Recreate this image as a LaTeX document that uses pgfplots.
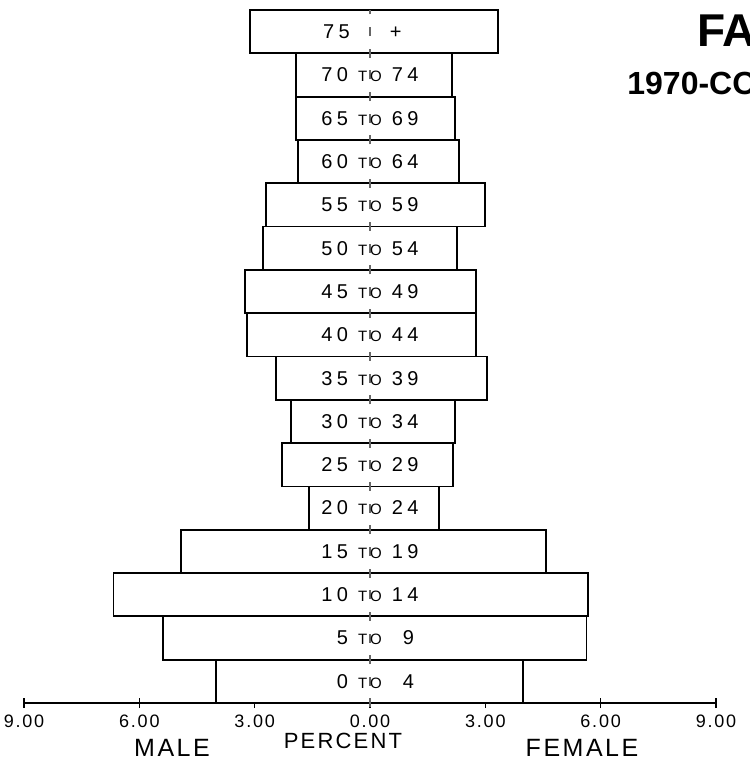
\documentclass[border=0pt]{standalone}
\usepackage{fontspec}
\setmainfont{Liberation Sans}
\newfontfamily\plotfont[LetterSpace=10]{Liberation Sans}
\newfontfamily\lblfont[LetterSpace=22]{Liberation Sans}
\usepackage{pgfplots}
\pgfplotsset{compat=1.18}
\usepackage{pgfplotstable}

\pgfplotstableread{
row  male female
0.5  4.01 3.98
1.5  5.39 5.63
2.5  6.67 5.68
3.5  4.92 4.58
4.5  1.59 1.80
5.5  2.29 2.16
6.5  2.06 2.21
7.5  2.45 3.05
8.5  3.20 2.76
9.5  3.26 2.76
10.5 2.79 2.27
11.5 2.71 2.99
12.5 1.88 2.32
13.5 1.93 2.21
14.5 1.93 2.13
15.5 3.12 3.33
}\pyr

\newcommand\TO{{\fontsize{7.5}{7.5}\selectfont TO}}
\tikzset{lbl/.style={font=\lblfont\fontsize{10}{10}\selectfont}}

\begin{document}
\begin{tikzpicture}
\path[use as bounding box] (0,0) rectangle (375pt,383.5pt);
\clip (0,0) rectangle (375pt,383.5pt);
\begin{axis}[
  at={(12pt,32pt)}, anchor=south west,
  scale only axis, width=346pt, height=346.5pt,
  xmin=-9, xmax=9, ymin=0, ymax=16,
  axis x line=bottom, axis y line=none,
  x axis line style={-, line width=0.9pt},
  xtick={-9,-6,-3,0,3,6,9},
  xticklabels={9.00,6.00,3.00,0.00,3.00,6.00,9.00},
  xticklabel style={font=\plotfont\fontsize{9}{9}\selectfont},
  major tick length=5pt, tick align=center,
  tick style={black, line width=0.8pt},
  xbar stacked, stack negative=on previous, bar width=1,
  clip=false,
]
\addplot[draw=none, fill=none] table[y=row, x expr=-\thisrow{male}] {\pyr};
\addplot[draw=black, fill=white, line width=0.9pt] table[y=row, x expr=\thisrow{male}+\thisrow{female}] {\pyr};
\coordinate (bot) at (axis cs:0,0);
\coordinate (top) at (axis cs:0,16);
\coordinate (r15) at (axis cs:-0.2,15.5);
\coordinate (r14) at (axis cs:0,14.5);
\coordinate (r13) at (axis cs:0,13.5);
\coordinate (r12) at (axis cs:0,12.5);
\coordinate (r11) at (axis cs:0,11.5);
\coordinate (r10) at (axis cs:0,10.5);
\coordinate (r9) at (axis cs:0,9.5);
\coordinate (r8) at (axis cs:0,8.5);
\coordinate (r7) at (axis cs:0,7.5);
\coordinate (r6) at (axis cs:0,6.5);
\coordinate (r5) at (axis cs:0,5.5);
\coordinate (r4) at (axis cs:0,4.5);
\coordinate (r3) at (axis cs:0,3.5);
\coordinate (r2) at (axis cs:0,2.5);
\coordinate (r1) at (axis cs:0,1.5);
\coordinate (r0) at (axis cs:0,0.5);
\end{axis}
\draw[black!60, line width=0.7pt, dash pattern=on 4.5pt off 6.33pt] ([yshift=-2.25pt]bot) -- (top);
\node[lbl] at (r15) {75\hspace{20pt}+};
\node[lbl] at (r14) {70 \TO\ 74};
\node[lbl] at (r13) {65 \TO\ 69};
\node[lbl] at (r12) {60 \TO\ 64};
\node[lbl] at (r11) {55 \TO\ 59};
\node[lbl] at (r10) {50 \TO\ 54};
\node[lbl] at (r9) {45 \TO\ 49};
\node[lbl] at (r8) {40 \TO\ 44};
\node[lbl] at (r7) {35 \TO\ 39};
\node[lbl] at (r6) {30 \TO\ 34};
\node[lbl] at (r5) {25 \TO\ 29};
\node[lbl] at (r4) {20 \TO\ 24};
\node[lbl] at (r3) {15 \TO\ 19};
\node[lbl] at (r2) {10 \TO\ 14};
\node[lbl] at (r1) {\phantom{0}5 \TO\ \phantom{0}9};
\node[lbl] at (r0) {\phantom{0}0 \TO\ \phantom{0}4};
\node[font=\plotfont\fontsize{11}{11}\selectfont] at (171.5pt,13pt) {PERCENT};
\node[font=\plotfont\fontsize{12.5}{12.5}\selectfont] at (86pt,9.5pt) {MALE};
\node[font=\plotfont\fontsize{12.5}{12.5}\selectfont] at (291pt,9.5pt) {FEMALE};
\node[font=\bfseries\fontsize{23}{23}\selectfont, anchor=base west, inner sep=0pt] at (348.5pt,360pt) {FA};
\node[font=\bfseries\fontsize{16}{16}\selectfont, anchor=base west, inner sep=0pt] at (313.5pt,336pt) {1970-CO};
\end{tikzpicture}
\end{document}
